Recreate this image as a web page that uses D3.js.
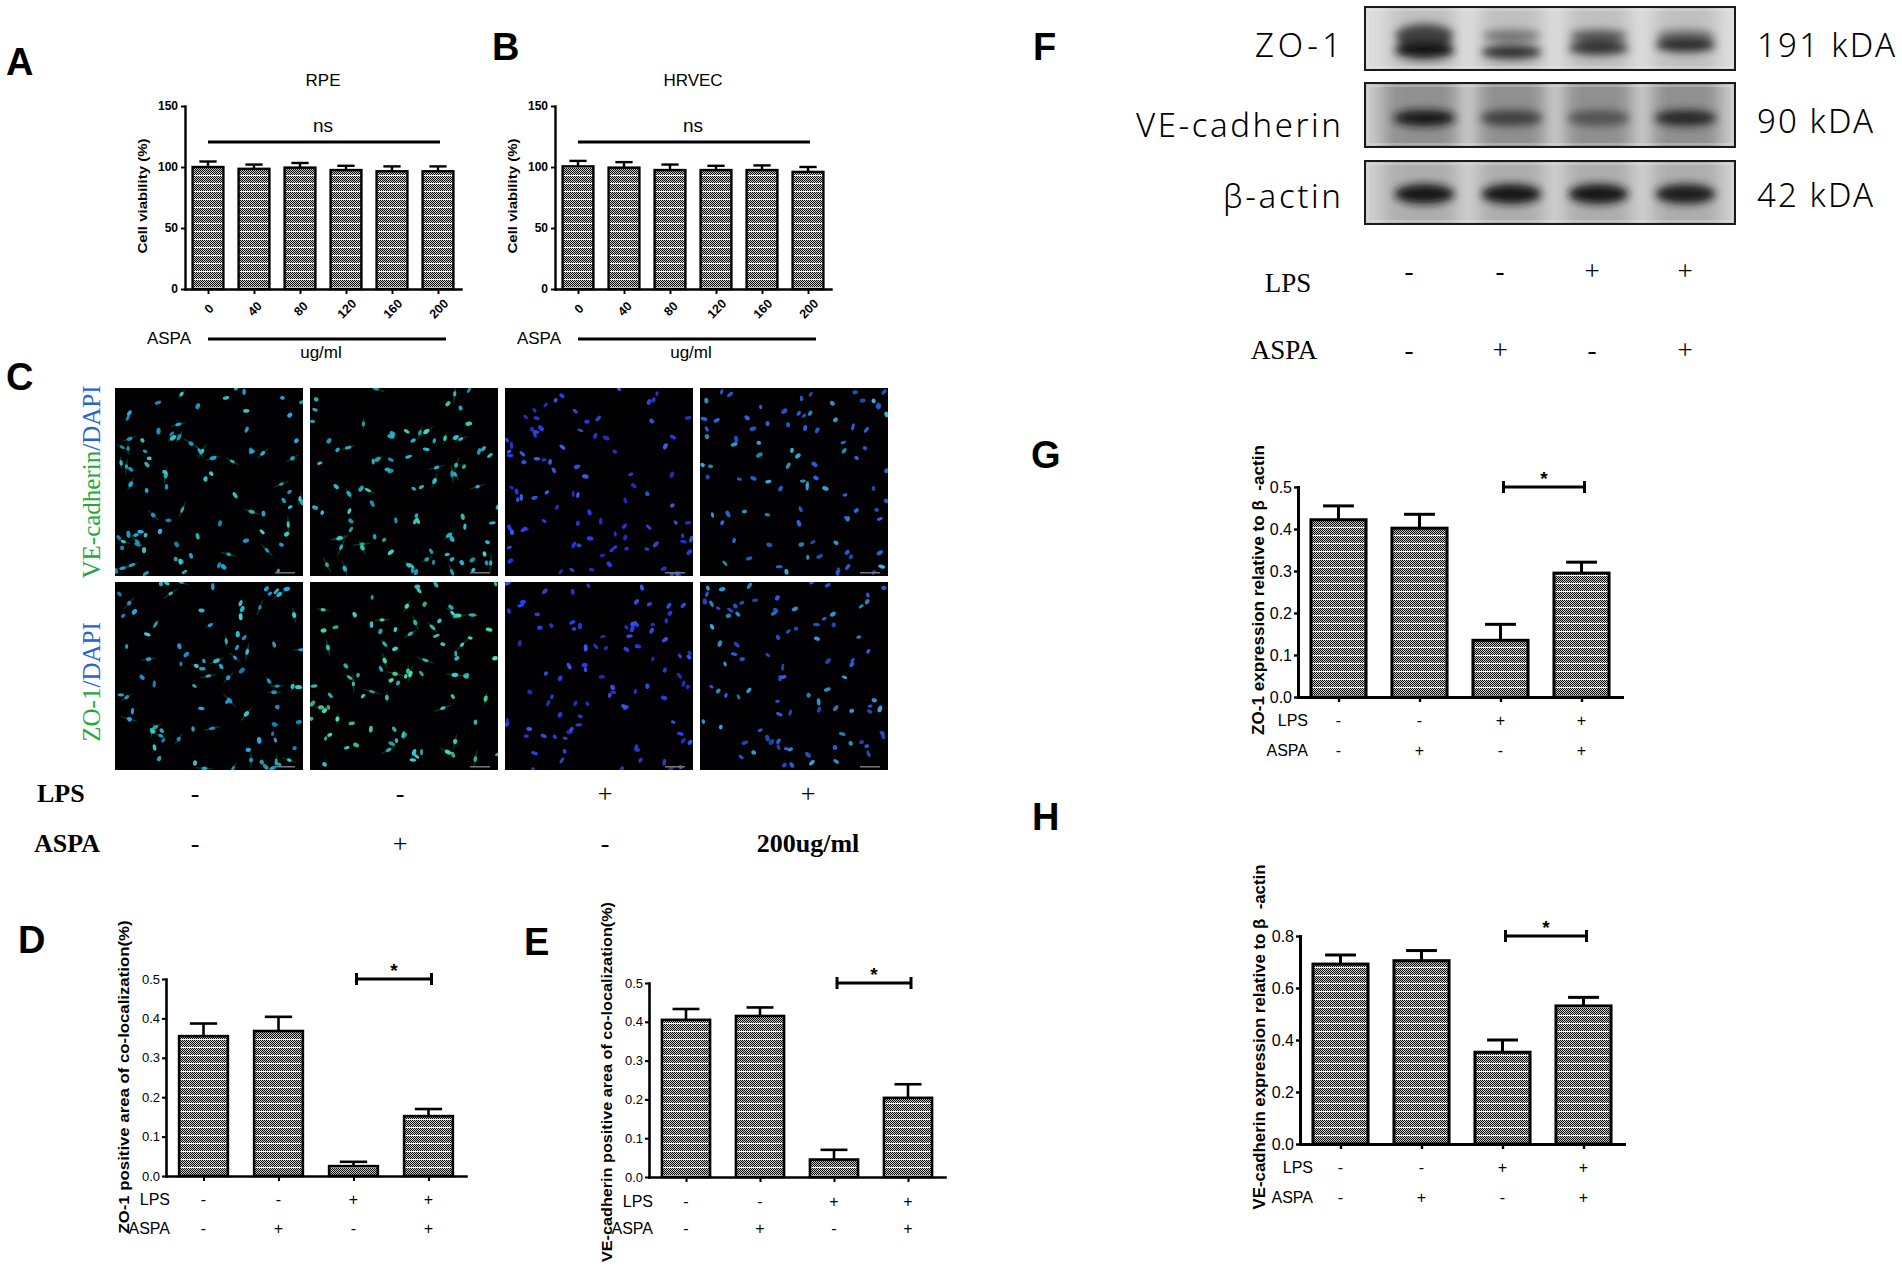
<!DOCTYPE html>
<html>
<head>
<meta charset="utf-8">
<script src="https://cdn.jsdelivr.net/npm/d3@7"></script>
<style>
  html, body { margin: 0; padding: 0; background: #fff; }
  svg { display: block; }
</style>
</head>
<body>
<svg id="fig" width="1902" height="1266"></svg>
<script>
// ---- data ----
const doses = ["0", "40", "80", "120", "160", "200"];
const rpeViability = [100, 98.5, 99.5, 97.5, 96.5, 96.5];
const rpeError = [4.5, 3.5, 3.8, 3.5, 4, 4];
const hrvecViability = [100.5, 99.5, 97.5, 97.5, 97.5, 96];
const hrvecError = [4.5, 4.5, 4.5, 3.5, 3.8, 4];

const lpsSigns = ["-", "-", "+", "+"];
const aspaSigns = ["-", "+", "-", "+"];
const imageAspaLabels = ["-", "+", "-", "200ug/ml"];

const zo1Coloc = [0.355, 0.368, 0.025, 0.152];
const zo1ColocErr = [0.032, 0.036, 0.011, 0.018];
const veColoc = [0.405, 0.415, 0.045, 0.204];
const veColocErr = [0.028, 0.022, 0.025, 0.035];
const zo1Expr = [0.422, 0.402, 0.135, 0.295];
const zo1ExprErr = [0.033, 0.033, 0.038, 0.026];
const veExpr = [0.692, 0.705, 0.353, 0.531];
const veExprErr = [0.035, 0.039, 0.047, 0.033];

const blotProteins = ["ZO-1", "VE-cadherin", "β-actin"];
const blotSizes = ["191 kDA", "90 kDA", "42 kDA"];
const zo1LowerBand = [0.95, 0.82, 0.8, 0.86];
const zo1UpperBand = [0.72, 0.45, 0.62, 0.5];
const veBand = [0.95, 0.72, 0.62, 0.86];
const actinBand = [0.96, 0.94, 0.93, 0.92];

const SANS = "'Liberation Sans', Arial, sans-serif";
const SERIF = "'Liberation Serif', 'Times New Roman', serif";

const svg = d3.select("#fig");
const defs = svg.append("defs");

// bar texture: 1px checker with a light row every 8px
const pat = defs.append("pattern").attr("id", "dots")
  .attr("patternUnits", "userSpaceOnUse").attr("width", 2).attr("height", 8);
pat.append("rect").attr("width", 2).attr("height", 8).attr("fill", "#c8c8c8");
d3.range(7).forEach((r) => {
  pat.append("rect")
    .attr("x", r % 2).attr("y", r)
    .attr("width", 1).attr("height", 1).attr("fill", "#0a0a0a");
});
pat.append("rect").attr("y", 7).attr("width", 2).attr("height", 1).attr("fill", "#f4f4f4");

defs.append("filter").attr("id", "glow").append("feGaussianBlur").attr("stdDeviation", 0.55);
defs.append("filter").attr("id", "blurBand")
  .attr("x", "-50%").attr("y", "-80%").attr("width", "200%").attr("height", "260%")
  .append("feGaussianBlur").attr("stdDeviation", 4);
defs.append("filter").attr("id", "blurWide")
  .attr("x", "-50%").attr("y", "-50%").attr("width", "200%").attr("height", "200%")
  .append("feGaussianBlur").attr("stdDeviation", 9);

// ---- panel letters ----
const letters = [
  ["A", 6, 75], ["B", 492, 60], ["C", 6, 390], ["D", 18, 953],
  ["E", 524, 955], ["F", 1033, 60], ["G", 1031, 468], ["H", 1032, 830],
];
svg.selectAll(".letter").data(letters).join("text")
  .attr("class", "letter")
  .attr("x", (d) => d[1]).attr("y", (d) => d[2])
  .attr("font-family", SANS).attr("font-size", 38).attr("font-weight", "bold")
  .text((d) => d[0]);

// ---- generic bar panel ----
function barPanel(o) {
  const g = svg.append("g");
  const x = d3.scalePoint().domain(d3.range(o.values.length))
    .range([o.left, o.right]).padding(0.5);
  const y = d3.scaleLinear().domain([0, o.max]).range([o.bottom, o.top]);
  const bw = x.step() * o.barFrac;

  g.selectAll(".bar").data(o.values).join("rect")
    .attr("class", "bar")
    .attr("x", (d, i) => x(i) - bw / 2).attr("y", (d) => y(d))
    .attr("width", bw).attr("height", (d) => y(0) - y(d))
    .attr("fill", "url(#dots)").attr("stroke", "#000").attr("stroke-width", o.sw);

  const eb = g.selectAll(".err").data(o.values).join("g")
    .attr("class", "err")
    .attr("transform", (d, i) => `translate(${x(i)},0)`)
    .attr("stroke", "#000").attr("stroke-width", o.sw);
  eb.append("line")
    .attr("y1", (d) => y(d)).attr("y2", (d, i) => y(d + o.errors[i]));
  eb.append("line")
    .attr("x1", -bw * 0.28).attr("x2", bw * 0.28)
    .attr("y1", (d, i) => y(d + o.errors[i])).attr("y2", (d, i) => y(d + o.errors[i]));

  const ya = g.append("g").attr("transform", `translate(${o.left},0)`)
    .call(d3.axisLeft(y).tickValues(o.ticks).tickFormat(o.fmt)
      .tickSize(o.tick).tickSizeOuter(0).tickPadding(o.pad));
  const xa = g.append("g").attr("transform", `translate(0,${o.bottom})`)
    .call(d3.axisBottom(x).tickSize(o.tick + 1).tickSizeOuter(0).tickFormat(""));
  [ya, xa].forEach((a) => {
    a.select(".domain").attr("stroke-width", o.sw).attr("stroke-linecap", "square");
    a.selectAll(".tick line").attr("stroke-width", o.sw * 0.8);
    a.selectAll("text").attr("font-family", SANS).attr("font-size", o.fs)
      .attr("font-weight", o.tickWeight || "normal").attr("fill", "#000");
  });

  g.append("text")
    .attr("transform", `translate(${o.titleX},${o.titleY}) rotate(-90)`)
    .attr("text-anchor", "middle").attr("dominant-baseline", "central")
    .attr("font-family", SANS).attr("font-weight", "bold").attr("font-size", o.titleFs)
    .attr("textLength", o.titleLen).attr("lengthAdjust", "spacingAndGlyphs")
    .style("white-space", "pre")
    .text(o.title);

  return { g, x, y };
}

function signRows(p, o) {
  [["LPS", lpsSigns, o.lpsY], ["ASPA", aspaSigns, o.aspaY]].forEach(([label, signs, yy]) => {
    p.g.append("text")
      .attr("x", o.labelX).attr("y", yy).attr("text-anchor", "end")
      .attr("font-family", SANS).attr("font-size", o.fs).text(label);
    p.g.selectAll(null).data(signs).join("text")
      .attr("x", (d, i) => p.x(i)).attr("y", yy).attr("text-anchor", "middle")
      .attr("font-family", SANS).attr("font-size", o.fs).text((d) => d);
  });
}

function bracket(p, i, j, v, h) {
  const yy = p.y(v);
  const xa = p.x(i) + 3, xb = p.x(j) + 3;
  const g = p.g.append("g").attr("stroke", "#000").attr("stroke-width", 3);
  g.append("line").attr("x1", xa).attr("x2", xb).attr("y1", yy).attr("y2", yy);
  [xa, xb].forEach((xx) =>
    g.append("line").attr("x1", xx).attr("x2", xx).attr("y1", yy - h).attr("y2", yy + h));
  p.g.append("text")
    .attr("x", (xa + xb) / 2).attr("y", yy - 2).attr("text-anchor", "middle")
    .attr("font-family", SANS).attr("font-size", 19).attr("font-weight", "bold").text("*");
}

// ---- A / B: cell viability ----
function viabilityPanel(o) {
  const p = barPanel({
    values: o.values, errors: o.errors, left: o.left, right: o.right,
    bottom: 289, top: 106, max: 150, ticks: [0, 50, 100, 150], fmt: d3.format("d"),
    barFrac: 0.67, sw: 2.4, tick: 4, pad: 3, fs: 12, tickWeight: "bold",
    title: "Cell viability (%)", titleX: o.left - 43, titleY: 196, titleFs: 13, titleLen: 115,
  });
  const x0 = p.x(0), x5 = p.x(doses.length - 1);
  const mid = (x0 + x5) / 2;
  p.g.selectAll(".dose").data(doses).join("text")
    .attr("transform", (d, i) => `translate(${p.x(i) + 1},309) rotate(-45)`)
    .attr("text-anchor", "middle").attr("dominant-baseline", "central")
    .attr("font-family", SANS).attr("font-size", 12.5).attr("font-weight", "bold")
    .text((d) => d);
  p.g.append("line").attr("x1", x0).attr("x2", x5 + 2).attr("y1", 142).attr("y2", 142)
    .attr("stroke", "#000").attr("stroke-width", 3);
  p.g.append("text").attr("x", mid).attr("y", 132).attr("text-anchor", "middle")
    .attr("font-family", SANS).attr("font-size", 19).text("ns");
  p.g.append("text").attr("x", mid).attr("y", 86).attr("text-anchor", "middle")
    .attr("font-family", SANS).attr("font-size", 17).text(o.title);
  p.g.append("line").attr("x1", x0).attr("x2", x5 + 8).attr("y1", 339).attr("y2", 339)
    .attr("stroke", "#000").attr("stroke-width", 3);
  p.g.append("text").attr("x", x0 - 17).attr("y", 344).attr("text-anchor", "end")
    .attr("font-family", SANS).attr("font-size", 17).text("ASPA");
  p.g.append("text").attr("x", mid - 2).attr("y", 358).attr("text-anchor", "middle")
    .attr("font-family", SANS).attr("font-size", 17).text("ug/ml");
}
viabilityPanel({ values: rpeViability, errors: rpeError, left: 185, right: 461, title: "RPE" });
viabilityPanel({ values: hrvecViability, errors: hrvecError, left: 555, right: 831, title: "HRVEC" });

// ---- D / E / G / H ----
const pD = barPanel({
  values: zo1Coloc, errors: zo1ColocErr, left: 166, right: 466, bottom: 1176, top: 979,
  max: 0.5, ticks: d3.range(0, 0.51, 0.1), fmt: d3.format(".1f"), barFrac: 0.65,
  sw: 2.6, tick: 4, pad: 2, fs: 13,
  title: "ZO-1 positive area of co-localization(%)", titleX: 123, titleY: 1077, titleFs: 15, titleLen: 313,
});
signRows(pD, { labelX: 170, lpsY: 1205, aspaY: 1234, fs: 16 });
bracket(pD, 2, 3, 0.5, 6);

const pE = barPanel({
  values: veColoc, errors: veColocErr, left: 649, right: 945, bottom: 1177, top: 983,
  max: 0.5, ticks: d3.range(0, 0.51, 0.1), fmt: d3.format(".1f"), barFrac: 0.65,
  sw: 2.6, tick: 4, pad: 2, fs: 13,
  title: "VE-cadherin positive area of co-localization(%)", titleX: 606, titleY: 1082, titleFs: 15, titleLen: 360,
});
signRows(pE, { labelX: 653, lpsY: 1207, aspaY: 1234, fs: 16 });
bracket(pE, 2, 3, 0.5, 6);

const pG = barPanel({
  values: zo1Expr, errors: zo1ExprErr, left: 1298, right: 1622, bottom: 697, top: 487,
  max: 0.5, ticks: d3.range(0, 0.51, 0.1), fmt: d3.format(".1f"), barFrac: 0.68,
  sw: 3, tick: 4, pad: 2, fs: 16,
  title: "ZO-1 expression relative to β  -actin", titleX: 1258, titleY: 590, titleFs: 16, titleLen: 290,
});
signRows(pG, { labelX: 1308, lpsY: 726, aspaY: 756, fs: 16 });
bracket(pG, 2, 3, 0.5, 6);

const pH = barPanel({
  values: veExpr, errors: veExprErr, left: 1300, right: 1624, bottom: 1144, top: 936,
  max: 0.8, ticks: d3.range(0, 0.81, 0.2), fmt: d3.format(".1f"), barFrac: 0.68,
  sw: 3, tick: 4, pad: 2, fs: 16,
  title: "VE-cadherin expression relative to β  -actin", titleX: 1259, titleY: 1037, titleFs: 16, titleLen: 345,
});
signRows(pH, { labelX: 1313, lpsY: 1173, aspaY: 1203, fs: 16 });
bracket(pH, 2, 3, 0.8, 6);

// ---- C: immunofluorescence tiles (texture only, seeded so it is stable) ----
function seeded(seed) {
  return function () {
    seed |= 0; seed = (seed + 0x6D2B79F5) | 0;
    let t = Math.imul(seed ^ (seed >>> 15), 1 | seed);
    t = (t + Math.imul(t ^ (t >>> 7), 61 | t)) ^ t;
    return ((t ^ (t >>> 14)) >>> 0) / 4294967296;
  };
}
const tileX = [115, 310, 505, 700];
const tileY = [388, 582];
const tileSize = 188;
const tilePalettes = [
  [["#22b6ec", "#3ad4d6"], ["#2cc4e0", "#3edcc4"], ["#2a3cff", "#3a60f8"], ["#2a6cf2", "#34b8e6"]],
  [["#22aaec", "#38ccdc"], ["#36d4d0", "#48e6b4"], ["#2a40f6", "#3a58ff"], ["#2c5ef0", "#30a8e6"]],
];
const cImg = svg.append("g");
tileY.forEach((ty, r) => {
  tileX.forEach((tx, c) => {
    const rand = seeded(101 + r * 17 + c * 5);
    const id = `clipTile${r}${c}`;
    defs.append("clipPath").attr("id", id).append("rect")
      .attr("x", tx).attr("y", ty).attr("width", tileSize).attr("height", tileSize);
    const tg = cImg.append("g").attr("clip-path", `url(#${id})`);
    tg.append("rect").attr("x", tx).attr("y", ty).attr("width", tileSize).attr("height", tileSize)
      .attr("fill", "#010104");
    const cells = tg.append("g").attr("filter", "url(#glow)");
    const pal = tilePalettes[r][c];
    for (let k = 0; k < 90; k++) {
      const cx = tx + rand() * tileSize, cy = ty + rand() * tileSize;
      const ang = rand() * 180;
      if (c < 2 && rand() < 0.35) {
        cells.append("ellipse").attr("cx", cx).attr("cy", cy)
          .attr("rx", 1).attr("ry", 6 + rand() * 4)
          .attr("transform", `rotate(${ang},${cx},${cy})`)
          .attr("fill", "#168a3e").attr("opacity", 0.4);
      }
      cells.append("ellipse").attr("cx", cx).attr("cy", cy)
        .attr("rx", 1.5 + rand() * 0.7).attr("ry", 2.3 + rand() * 1.3)
        .attr("transform", `rotate(${ang},${cx},${cy})`)
        .attr("fill", pal[rand() < 0.6 ? 0 : 1]).attr("opacity", 0.7 + rand() * 0.3);
    }
    tg.append("rect").attr("x", tx + tileSize - 28).attr("y", ty + tileSize - 4)
      .attr("width", 20).attr("height", 1.5).attr("fill", "#777");
  });
});

const cLab = svg.append("g").attr("font-family", SERIF).attr("font-size", 25);
[["VE-cadherin", 482], ["ZO-1", 682]].forEach(([name, cy]) => {
  const t = cLab.append("text")
    .attr("transform", `translate(91,${cy}) rotate(-90)`)
    .attr("text-anchor", "middle").attr("dominant-baseline", "central");
  t.append("tspan").attr("fill", "#22a83c").text(name);
  t.append("tspan").attr("fill", "#2462d6").text("/DAPI");
});
const cSignX = [195, 400, 605, 808];
cLab.append("text").attr("x", 37).attr("y", 802).attr("font-size", 26).attr("font-weight", "bold").text("LPS");
cLab.append("text").attr("x", 34).attr("y", 852).attr("font-size", 26).attr("font-weight", "bold").text("ASPA");
cLab.selectAll(".cl").data(lpsSigns).join("text").attr("class", "cl")
  .attr("x", (d, i) => cSignX[i]).attr("y", 802).attr("text-anchor", "middle")
  .attr("font-size", 26).text((d) => d);
cLab.selectAll(".ca").data(imageAspaLabels).join("text").attr("class", "ca")
  .attr("x", (d, i) => cSignX[i]).attr("y", 852).attr("text-anchor", "middle")
  .attr("font-size", 26).attr("font-weight", (d) => (d.length > 1 ? "bold" : "normal"))
  .text((d) => d);

// ---- F: western blot ----
const lane = d3.scalePoint().domain(d3.range(4)).range([1381, 1729]).padding(0.5);
const bandColor = d3.scaleLinear().domain([0, 1]).range(["#c4c4c4", "#0c0c0c"]);
const blotBoxes = [
  { y: 7, h: 63, bg: "#d3d3d3", gap: "#dedede", lanes: "#b4b4b4" },
  { y: 83, h: 64, bg: "#9a9a9a", gap: "#cfcfcf", lanes: "#8a8a8a" },
  { y: 161, h: 63, bg: "#b6b6b6", gap: "#d2d2d2", lanes: "#a8a8a8" },
];
const bx0 = 1365, bx1 = 1735;
const blot = svg.append("g");
blotBoxes.forEach((b, bi) => {
  const id = `clipBlot${bi}`;
  defs.append("clipPath").attr("id", id).append("rect")
    .attr("x", bx0).attr("y", b.y).attr("width", bx1 - bx0).attr("height", b.h);
  const g = blot.append("g").attr("clip-path", `url(#${id})`);
  g.append("rect").attr("x", bx0).attr("y", b.y).attr("width", bx1 - bx0).attr("height", b.h).attr("fill", b.bg);
  const gaps = [bx0 + 4, (lane(0) + lane(1)) / 2, (lane(1) + lane(2)) / 2, (lane(2) + lane(3)) / 2, bx1 - 4];
  gaps.forEach((gx) => g.append("rect").attr("x", gx - 12).attr("y", b.y - 20).attr("width", 24)
    .attr("height", b.h + 40).attr("fill", b.gap).attr("filter", "url(#blurWide)"));
  d3.range(4).forEach((i) => g.append("rect").attr("x", lane(i) - 30).attr("y", b.y - 20)
    .attr("width", 60).attr("height", b.h + 40).attr("fill", b.lanes).attr("opacity", 0.6)
    .attr("filter", "url(#blurWide)"));
  const bands = g.append("g").attr("filter", "url(#blurBand)");
  if (bi === 0) {
    zo1UpperBand.forEach((v, i) => bands.append("ellipse").attr("cx", lane(i)).attr("cy", b.y + 29)
      .attr("rx", 29).attr("ry", i === 0 ? 12 : 6).attr("fill", bandColor(v)));
    zo1LowerBand.forEach((v, i) => bands.append("ellipse").attr("cx", lane(i))
      .attr("cy", b.y + [43, 45, 41, 38][i]).attr("rx", 30).attr("ry", i === 0 ? 9 : 7).attr("fill", bandColor(v)));
  } else if (bi === 1) {
    veBand.forEach((v, i) => bands.append("ellipse").attr("cx", lane(i)).attr("cy", b.y + 35)
      .attr("rx", 31).attr("ry", 8).attr("fill", bandColor(v)));
  } else {
    actinBand.forEach((v, i) => bands.append("ellipse").attr("cx", lane(i)).attr("cy", b.y + 33)
      .attr("rx", 30).attr("ry", 10).attr("fill", bandColor(v)));
  }
  blot.append("rect").attr("x", bx0).attr("y", b.y).attr("width", bx1 - bx0).attr("height", b.h)
    .attr("fill", "none").attr("stroke", "#1a1a1a").attr("stroke-width", 2);
  blot.append("rect").attr("x", bx0 + 3).attr("y", b.y + 3).attr("width", bx1 - bx0 - 6).attr("height", b.h - 6)
    .attr("fill", "none").attr("stroke", "#eee").attr("stroke-width", 1).attr("opacity", 0.6);
});

const blotLabelY = [57, 137, 208];
const blotLabelLen = [86, 205, 118];
const blotSizeY = [57, 133, 207];
const blotSizeLen = [138, 116, 116];
blot.selectAll(".pl").data(blotProteins).join("text").attr("class", "pl")
  .attr("x", 1341).attr("y", (d, i) => blotLabelY[i]).attr("text-anchor", "end")
  .attr("font-family", "'Noto Sans', " + SANS).attr("font-size", 33).attr("font-weight", 300)
  .attr("textLength", (d, i) => blotLabelLen[i]).attr("lengthAdjust", "spacing")
  .text((d) => d);
blot.selectAll(".ps").data(blotSizes).join("text").attr("class", "ps")
  .attr("x", 1757).attr("y", (d, i) => blotSizeY[i])
  .attr("font-family", "'Noto Sans', " + SANS).attr("font-size", 33).attr("font-weight", 300)
  .attr("textLength", (d, i) => blotSizeLen[i]).attr("lengthAdjust", "spacing")
  .text((d) => d);

const fSignX = [1409, 1500, 1592, 1685];
const fRows = svg.append("g").attr("font-family", SERIF).attr("font-size", 27);
fRows.append("text").attr("x", 1288).attr("y", 292).attr("text-anchor", "middle").text("LPS");
fRows.append("text").attr("x", 1284).attr("y", 359).attr("text-anchor", "middle").text("ASPA");
fRows.selectAll(".fl").data(lpsSigns).join("text").attr("class", "fl")
  .attr("x", (d, i) => fSignX[i]).attr("y", 280).attr("text-anchor", "middle").text((d) => d);
fRows.selectAll(".fa").data(aspaSigns).join("text").attr("class", "fa")
  .attr("x", (d, i) => fSignX[i]).attr("y", 359).attr("text-anchor", "middle").text((d) => d);
</script>
</body>
</html>
